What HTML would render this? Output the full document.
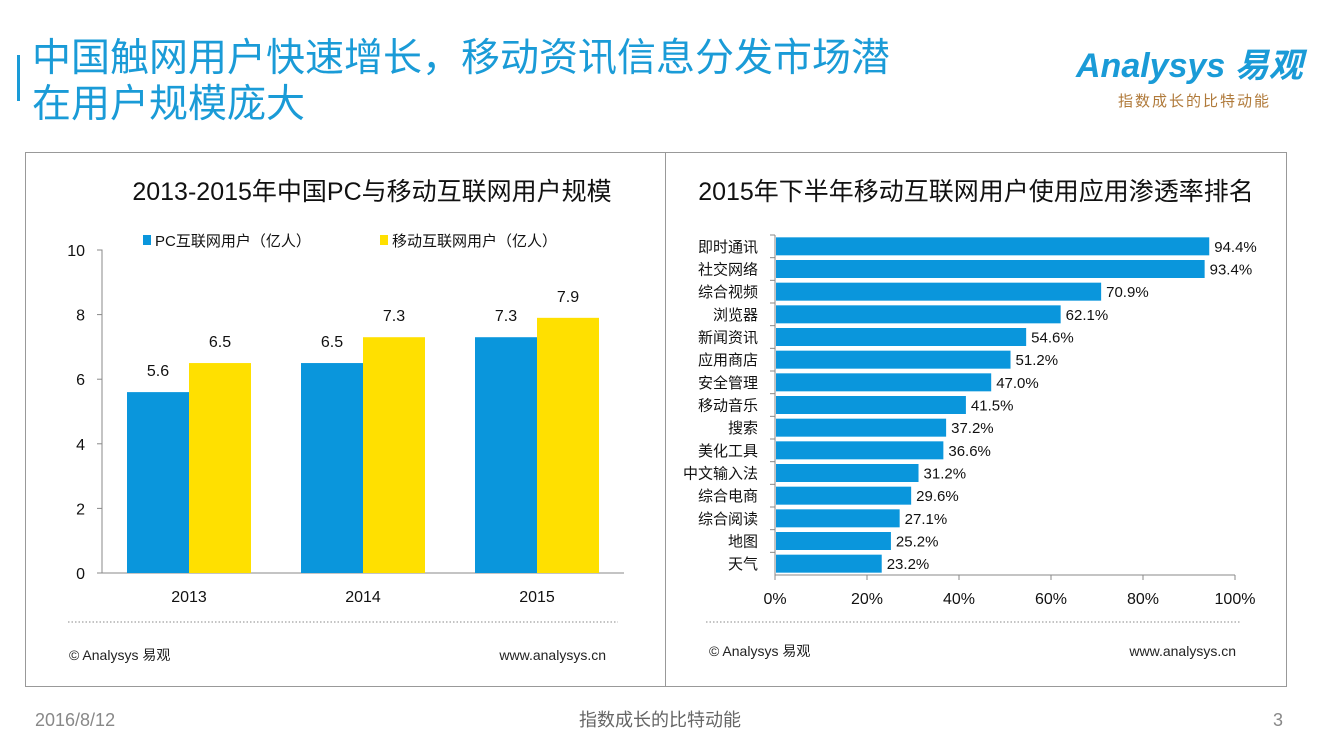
<!DOCTYPE html>
<html><head><meta charset="utf-8">
<style>
body{margin:0;width:1320px;height:743px;background:#fff;overflow:hidden;font-family:"Liberation Sans","Noto Sans CJK SC",sans-serif;}
svg text{font-family:"Liberation Sans","Noto Sans CJK SC",sans-serif;}
</style></head><body>
<svg width="1320" height="743" xmlns="http://www.w3.org/2000/svg">
<rect x="17" y="55" width="3" height="46" fill="#1a9bd7"/>
<text x="32" y="71" font-size="39" fill="#1a9bd7">中国触网用户快速增长，移动资讯信息分发市场潜</text>
<text x="32" y="117" font-size="39" fill="#1a9bd7">在用户规模庞大</text>
<text x="1076" y="77" font-size="34" font-style="italic" font-weight="bold" fill="#1a9bd7">Analysys 易观</text>
<text x="1118" y="106" font-size="15" fill="#b07a3a" letter-spacing="2">指数成长的比特动能</text>

<rect x="25.5" y="152.5" width="640" height="534" fill="none" stroke="#999"/>
<rect x="665.5" y="152.5" width="621" height="534" fill="none" stroke="#999"/>

<g id="left"></g>
<g id="right"></g>

<line x1="68" y1="622" x2="618" y2="622" stroke="#888" stroke-dasharray="1.5,2"/>
<line x1="706" y1="622" x2="1240" y2="622" stroke="#888" stroke-dasharray="1.5,2"/>
<text x="69" y="660" font-size="14" fill="#222">© Analysys 易观</text>
<text x="606" y="660" font-size="14" fill="#222" text-anchor="end">www.analysys.cn</text>
<text x="709" y="656" font-size="14" fill="#222">© Analysys 易观</text>
<text x="1236" y="656" font-size="14" fill="#222" text-anchor="end">www.analysys.cn</text>

<text x="35" y="726" font-size="18" fill="#888">2016/8/12</text>
<text x="660" y="726" font-size="18" fill="#666" text-anchor="middle">指数成长的比特动能</text>
<text x="1283" y="726" font-size="18" fill="#888" text-anchor="end">3</text>
</svg>
<script>
const years = ["2013","2014","2015"];
const pcUsers = [5.6, 6.5, 7.3];
const mobileUsers = [6.5, 7.3, 7.9];
const yTicks = [0,2,4,6,8,10];
const apps = ["即时通讯","社交网络","综合视频","浏览器","新闻资讯","应用商店","安全管理","移动音乐","搜索","美化工具","中文输入法","综合电商","综合阅读","地图","天气"];
const rates = [94.4,93.4,70.9,62.1,54.6,51.2,47.0,41.5,37.2,36.6,31.2,29.6,27.1,25.2,23.2];
const xTicks = [0,20,40,60,80,100];

const NS="http://www.w3.org/2000/svg";
function mk(parent,tag,attrs,txt){const e=document.createElementNS(NS,tag);for(const k in attrs)e.setAttribute(k,attrs[k]);if(txt!==undefined)e.textContent=txt;parent.appendChild(e);return e;}

// left chart
const L=document.getElementById('left');
const x0=102,x1=624,yb=573,yt=250;
const yS=v=>yb-(v/10)*(yb-yt);
const band=(x1-x0)/years.length;
let t=mk(L,'text',{x:372,y:200,'font-size':25,fill:'#111','text-anchor':'middle'},'2013-2015年中国PC与移动互联网用户规模');


let r=mk(L,'rect',{x:143,y:235,width:8,height:10,fill:'#0a96dc'});


t=mk(L,'text',{x:155,y:246,'font-size':15,fill:'#111'},'PC互联网用户（亿人）');


r=mk(L,'rect',{x:380,y:235,width:8,height:10,fill:'#ffe000'});


t=mk(L,'text',{x:392,y:246,'font-size':15,fill:'#111'},'移动互联网用户（亿人）');


let ax=mk(L,'path',{d:`M${x0-5},${yt}H${x0}V${yb}H${x1}`,stroke:'#888',fill:'none'});


yTicks.forEach(v=>{
  mk(L,'line',{x1:x0-5,x2:x0,y1:yS(v),y2:yS(v),stroke:'#888'});
  const e=mk(L,'text',{x:85,y:yS(v)+6,'font-size':16,fill:'#111','text-anchor':'end'},v);
  
  
});
const bw=62;
years.forEach((y,i)=>{
  const c=x0+band*(i+0.5);
  const e=mk(L,'text',{x:c,y:602,'font-size':16,fill:'#111','text-anchor':'middle'},y);
  
  
  [[pcUsers[i],'#0a96dc',c-bw,'bar-pc-'+y],[mobileUsers[i],'#ffe000',c,'bar-mobile-'+y]].forEach(([v,col,bx,nm])=>{
    const b=mk(L,'rect',{x:bx,y:yS(v),width:bw,height:yb-yS(v),fill:col});
    
    
    const l=mk(L,'text',{x:bx+bw/2,y:yS(v)-16,'font-size':16,fill:'#111','text-anchor':'middle'},v.toFixed(1));
    
    
  });
});

// right chart
const R=document.getElementById('right');
const rx0=775,rx1=1235,ry0=235,ry1=575;
const xS=v=>rx0+(v/100)*(rx1-rx0);
const rb=(ry1-ry0)/apps.length;
t=mk(R,'text',{x:976,y:200,'font-size':25,fill:'#111','text-anchor':'middle'},'2015年下半年移动互联网用户使用应用渗透率排名');


ax=mk(R,'path',{d:`M${rx0},${ry0}V${ry1}H${rx1}`,stroke:'#888',fill:'none'});


xTicks.forEach(v=>{
  mk(R,'line',{x1:xS(v),x2:xS(v),y1:ry1,y2:ry1+5,stroke:'#888'});
  const e=mk(R,'text',{x:xS(v),y:604,'font-size':16,fill:'#111','text-anchor':'middle'},v+'%');
  
  
});
apps.forEach((a,i)=>{
  const cy=ry0+rb*(i+0.5);
  mk(R,'line',{x1:rx0-5,x2:rx0,y1:ry0+rb*i,y2:ry0+rb*i,stroke:'#888'});
  const lab=mk(R,'text',{x:758,y:cy+5.5,'font-size':15,fill:'#111','text-anchor':'end'},a);
  
  
  const b=mk(R,'rect',{x:rx0+1,y:cy-9,width:xS(rates[i])-rx0-1,height:18,fill:'#0a96dc'});
  
  
  const v=mk(R,'text',{x:xS(rates[i])+5,y:cy+5.5,'font-size':15,fill:'#111'},rates[i].toFixed(1)+'%');
  
  
});
</script>
</body></html>
